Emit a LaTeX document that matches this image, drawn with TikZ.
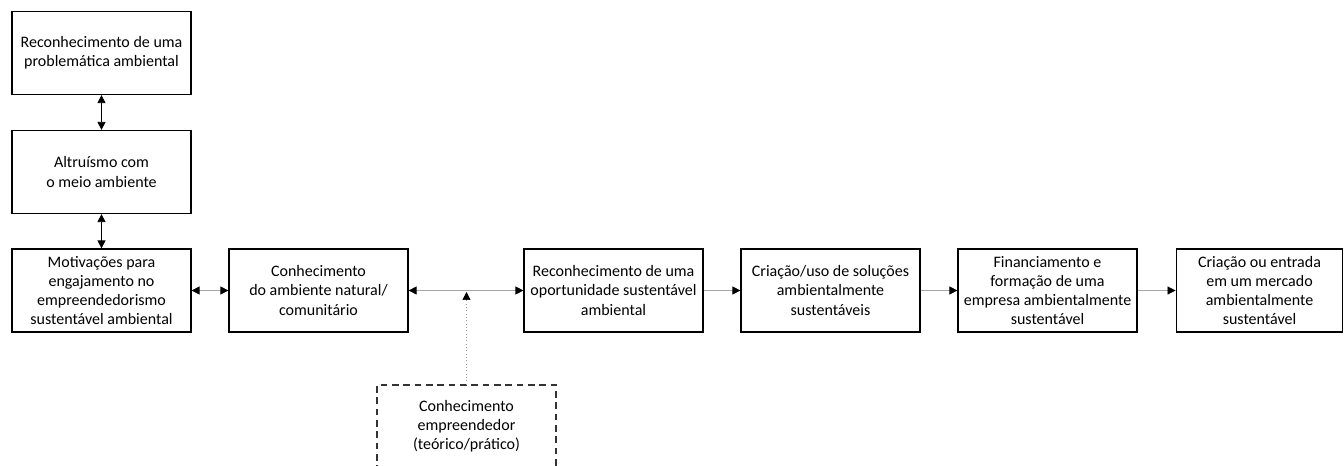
\documentclass[tikz,border=0pt]{standalone}
\usepackage{fontspec}
\setmainfont{Carlito}
\usetikzlibrary{arrows.meta}
\tikzset{Tri/.tip={Triangle[length=6pt,width=6pt,black]}}
\begin{document}
\begin{tikzpicture}[x=0.75pt,y=-0.75pt,
  box/.style={draw=black,line width=0.9pt,minimum width=134.25pt,minimum height=62.25pt,align=center,inner sep=1pt,font=\fontsize{12}{14.3}\selectfont},
  dbox/.style={box,draw=black!80,dashed,dash pattern=on 5pt off 3.5pt},
  vconn/.style={line width=0.6pt,black,{Tri}-{Tri}},
  hconn/.style={line width=0.6pt,black!35},
  dconn/.style={line width=0.5pt,black!40,dotted}]
\useasboundingbox (0,0) rectangle (1344,466);
\begin{scope}
\clip (0,0) rectangle (1344,466);
\node[box] (b1) at (101.5,53) {Reconhecimento de uma\\problemática ambiental};
\node[box] (b2) at (101.5,172) {Altruísmo com\\o meio ambiente};
\node[box] (b3) at (101.5,290.5) {Motivações para\\engajamento no\\empreendedorismo\\sustentável ambiental};
\node[box] (b4) at (318.5,290.5) {Conhecimento\\do ambiente natural/\\comunitário};
\node[box] (b5) at (613.5,290.5) {Reconhecimento de uma\\oportunidade sustentável\\ambiental};
\node[box] (b6) at (830.5,290.5) {Criação/uso de soluções\\ambientalmente\\sustentáveis};
\node[box] (b7) at (1047.5,290.5) {Financiamento e\\formação de uma\\empresa ambientalmente\\sustentável};
\node[box,minimum width=125pt] (b8) at (1259.5,290.5) {Criação ou entrada\\em um mercado\\ambientalmente\\sustentável};
\node[dbox] (d) at (466.5,426.5) {Conhecimento\\empreendedor\\(teórico/prático)};
\coordinate (j) at (466.5,292);
\draw[vconn] (b1) -- (b2);
\draw[vconn] (b2) -- (b3);
\draw[hconn,{Tri}-{Tri}] (b3) -- (b4);
\draw[hconn,{Tri}-{Tri}] (b4) -- (b5);
\draw[hconn,-{Tri}] (b5) -- (b6);
\draw[hconn,-{Tri}] (b6) -- (b7);
\draw[hconn,-{Tri}] (b7) -- (b8);
\draw[dconn,-{Tri}] (d.north) -- (j);
\end{scope}
\end{tikzpicture}
\end{document}
